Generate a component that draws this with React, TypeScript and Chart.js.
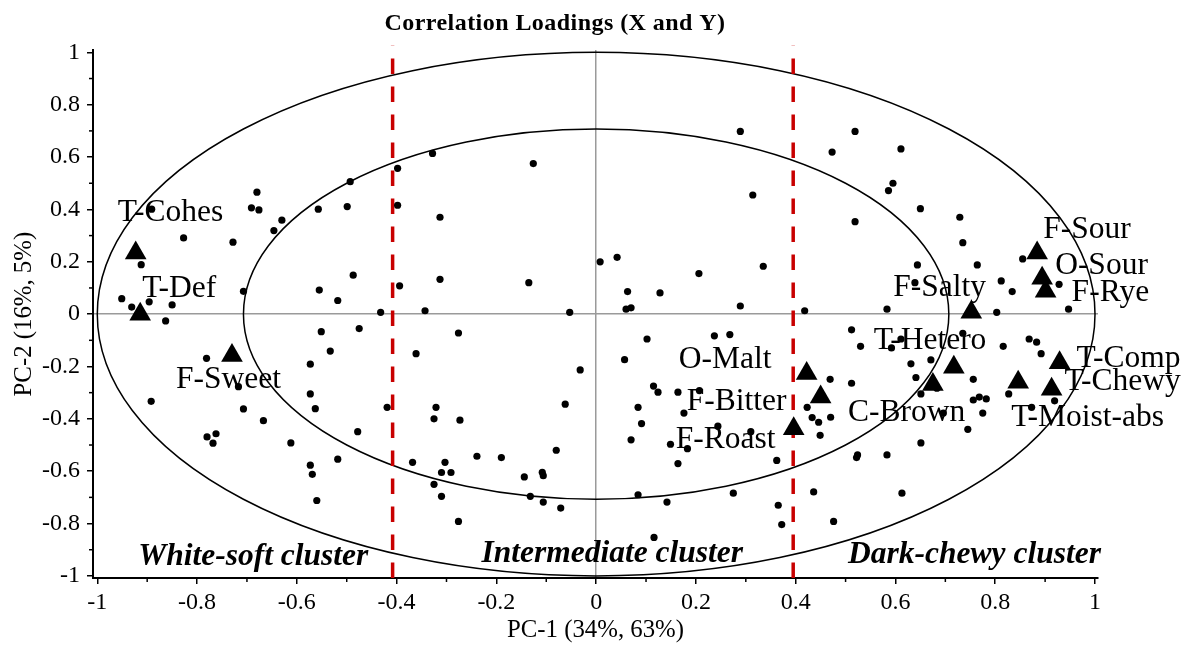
import React, { useEffect, useRef } from 'react';
import { Chart, registerables } from 'chart.js';

Chart.register(...registerables);

// ---------- data ----------
const dotX = [
  -0.891, -0.827, -0.728, -0.680, -0.691, -0.676, -0.646, -0.630, -0.557, -0.499, -0.493, -0.398, -0.398,
  -0.912, -0.951, -0.931, -0.896, -0.850, -0.863, -0.707, -0.555, -0.518, -0.487, -0.432, -0.394,
  -0.328, -0.126, -0.313, -0.313, -0.135, -0.343, -0.053, 0.008, 0.042, 0.063, 0.060, 0.070, 0.128,
  0.206, 0.289, 0.314, 0.335, 0.289,
  0.519, 0.473, 0.611, 0.595, 0.586, 0.650, 0.729, 0.519, 0.735, 0.644, 0.764, 0.855, 0.812, 0.834,
  0.928, 0.639, 0.418, 0.583, 0.803, 0.947,
  -0.781, -0.717, -0.892, -0.707, -0.667, -0.780, -0.762, -0.768, -0.612, -0.573, -0.551, -0.533,
  -0.475, -0.573, -0.563, -0.478, -0.419, -0.518, -0.573, -0.569, -0.560,
  -0.276, -0.361, -0.321, -0.325, -0.273, -0.032, -0.062, -0.080, -0.368, -0.303, -0.310, -0.291,
  -0.239, -0.190, -0.325, -0.310, -0.276, -0.144, -0.108, -0.106, -0.132, -0.106, -0.071,
  0.057, 0.102, 0.237, 0.268, 0.115, 0.124, 0.164, 0.207, 0.084, 0.091, 0.176, 0.070, 0.149, 0.183,
  0.244, 0.310, 0.164, 0.362, 0.084, 0.142, 0.275, 0.365, 0.372, 0.116,
  0.512, 0.530, 0.592, 0.611, 0.735, 0.816, 0.868, 0.883, 0.892, 0.631, 0.671, 0.641, 0.469, 0.512,
  0.756, 0.651, 0.683, 0.756, 0.768, 0.782, 0.775, 0.696, 0.827, 0.873, 0.919, 0.423, 0.433, 0.446,
  0.470, 0.449, 0.745, 0.651, 0.524, 0.522, 0.583, 0.436, 0.613, 0.476,
];
const dotY = [
  0.401, 0.291, 0.275, 0.466, 0.406, 0.398, 0.319, 0.359, 0.401, 0.411, 0.506, 0.557, 0.416,
  0.189, 0.059, 0.027, 0.047, 0.035, -0.026, 0.087, 0.092, 0.052, 0.149, 0.007, 0.108,
  0.614, 0.575, 0.370, 0.133, 0.120, 0.013, 0.007, 0.200, 0.217, 0.086, 0.019, 0.024, 0.081,
  0.155, 0.698, 0.455, 0.183, 0.031,
  0.698, 0.619, 0.631, 0.500, 0.472, 0.403, 0.370, 0.353, 0.273, 0.188, 0.188, 0.211, 0.127, 0.086,
  0.114, 0.120, 0.013, 0.019, 0.007, 0.019,
  -0.169, -0.277, -0.333, -0.362, -0.407, -0.469, -0.457, -0.493, -0.492, -0.191, -0.067, -0.141,
  -0.055, -0.305, -0.361, -0.449, -0.356, -0.554, -0.577, -0.612, -0.712,
  -0.072, -0.151, -0.356, -0.400, -0.405, -0.213, -0.344, -0.520, -0.566, -0.566, -0.605, -0.605,
  -0.543, -0.548, -0.650, -0.696, -0.792, -0.622, -0.604, -0.617, -0.696, -0.718, -0.741,
  -0.174, -0.095, -0.083, -0.078, -0.275, -0.298, -0.298, -0.292, -0.356, -0.418, -0.378, -0.480, -0.497, -0.514,
  -0.428, -0.449, -0.571, -0.559, -0.690, -0.718, -0.684, -0.730, -0.804, -0.853,
  -0.060, -0.123, -0.129, -0.095, -0.073, -0.123, -0.095, -0.107, -0.151, -0.190, -0.175, -0.242, -0.249, -0.264,
  -0.249, -0.305, -0.283, -0.328, -0.317, -0.324, -0.378, -0.378, -0.305, -0.356, -0.331, -0.356, -0.395, -0.413,
  -0.394, -0.463, -0.440, -0.492, -0.538, -0.548, -0.538, -0.679, -0.684, -0.792,
];

const varNames = [
  'T-Cohes', 'T-Def', 'F-Sweet', 'O-Malt', 'F-Bitter', 'F-Roast', 'F-Salty', 'F-Sour',
  'O-Sour', 'F-Rye', 'T-Hetero', 'C-Brown', 'T-Comp', 'T-Chewy', 'T-Moist-abs',
];
const varX = [-0.923, -0.914, -0.730, 0.422, 0.450, 0.396, 0.752, 0.884, 0.894, 0.901, 0.717, 0.675, 0.929, 0.913, 0.846];
const varY = [0.234, 0.0, -0.158, -0.227, -0.317, -0.438, 0.007, 0.234, 0.137, 0.087, -0.203, -0.269, -0.186, -0.287, -0.260];

const xTicks = [-1, -0.8, -0.6, -0.4, -0.2, 0, 0.2, 0.4, 0.6, 0.8, 1];
const yTicks = [-1, -0.8, -0.6, -0.4, -0.2, 0, 0.2, 0.4, 0.6, 0.8, 1];
const xMinorTicks = [-0.9, -0.7, -0.5, -0.3, -0.1, 0.1, 0.3, 0.5, 0.7, 0.9];
const yMinorTicks = [-0.9, -0.7, -0.5, -0.3, -0.1, 0.1, 0.3, 0.5, 0.7, 0.9];

const circleRadii = [1, 0.707];
const clusterBounds = [-0.408, 0.395];
const clusterNames = ['White-soft cluster', 'Intermediate cluster', 'Dark-chewy cluster'];

const titleText = 'Correlation Loadings (X and Y)';
const xTitle = 'PC-1 (34%, 63%)';
const yTitle = 'PC-2 (16%, 5%)';

// ---------- layout (pixels / positions, not data) ----------
const labelOffsets: [number, number][] = [
  [-18, -32], [2, -17], [-56, 33], [-128, -6], [-134, 13], [-118, 19], [-78, -16], [6, -15],
  [13, -4], [26, 10], [-80, -18], [-85, 36], [17, 4], [13, 1], [-7, 44],
];
const clusterLabelPos: [number, number][] = [[-0.918, -0.958], [-0.230, -0.946], [0.505, -0.950]];
const SERIF = "'Liberation Serif', 'Times New Roman', serif";

const fmt = (v: number) => String(Math.round(v * 10) / 10);

const overlayPlugin = {
  id: 'overlay',
  beforeDatasetsDraw(chart: any) {
    const { ctx, chartArea, scales } = chart;
    const x = scales.x, y = scales.y;
    ctx.save();
    const cx = x.getPixelForValue(0);
    const cy = y.getPixelForValue(0);
    ctx.strokeStyle = '#000';
    ctx.lineWidth = 1.5;
    circleRadii.forEach((r) => {
      ctx.beginPath();
      ctx.ellipse(cx, cy, x.getPixelForValue(r) - cx, cy - y.getPixelForValue(r), 0, 0, Math.PI * 2);
      ctx.stroke();
    });
    ctx.strokeStyle = '#c80000';
    ctx.lineWidth = 3.5;
    ctx.setLineDash([15.5, 12.5]);
    clusterBounds.forEach((b) => {
      const px = x.getPixelForValue(b);
      ctx.beginPath();
      ctx.moveTo(px, chartArea.bottom);
      ctx.lineTo(px, y.getPixelForValue(1.025));
      ctx.stroke();
    });
    ctx.restore();
  },
  afterDraw(chart: any) {
    const { ctx, chartArea, scales } = chart;
    const x = scales.x, y = scales.y;
    ctx.save();
    // minor ticks
    ctx.strokeStyle = '#000';
    ctx.lineWidth = 1.5;
    xMinorTicks.forEach((v) => {
      const px = x.getPixelForValue(v);
      ctx.beginPath();
      ctx.moveTo(px, chartArea.bottom);
      ctx.lineTo(px, chartArea.bottom + 4);
      ctx.stroke();
    });
    yMinorTicks.forEach((v) => {
      const py = y.getPixelForValue(v);
      ctx.beginPath();
      ctx.moveTo(chartArea.left, py);
      ctx.lineTo(chartArea.left - 4, py);
      ctx.stroke();
    });

    ctx.fillStyle = '#000';
    ctx.textBaseline = 'alphabetic';
    // variable labels
    ctx.font = `31.5px ${SERIF}`;
    ctx.textAlign = 'left';
    const meta = chart.getDatasetMeta(0);
    meta.data.forEach((pt: any, i: number) => {
      const [dx, dy] = labelOffsets[i];
      ctx.fillText(varNames[i], pt.x + dx, pt.y + dy);
    });
    // cluster labels
    ctx.font = `italic bold 31.5px ${SERIF}`;
    clusterNames.forEach((n, i) => {
      const [vx, vy] = clusterLabelPos[i];
      ctx.fillText(n, x.getPixelForValue(vx), y.getPixelForValue(vy));
    });
    // title
    ctx.font = `bold 24px ${SERIF}`;
    ctx.textAlign = 'center';
    (ctx as any).letterSpacing = '0.45px';
    ctx.fillText(titleText, 555, 29.5);
    (ctx as any).letterSpacing = '0px';
    // axis titles
    ctx.font = `24.8px ${SERIF}`;
    ctx.fillText(xTitle, (chartArea.left + chartArea.right) / 2, 637);
    ctx.save();
    ctx.translate(31, y.getPixelForValue(0));
    ctx.rotate(-Math.PI / 2);
    ctx.fillText(yTitle, 0, 0);
    ctx.restore();
    ctx.restore();
  },
};

export default function App() {
  const canvasRef = useRef<HTMLCanvasElement | null>(null);

  useEffect(() => {
    if (!canvasRef.current) return;
    const gridColor = (c: any) => (c.tick && c.tick.value === 0 ? '#9a9a9a' : 'rgba(0,0,0,0)');
    const chart = new Chart(canvasRef.current, {
      type: 'scatter',
      data: {
        datasets: [
          {
            label: 'Variables',
            data: varX.map((v, i) => ({ x: v, y: varY[i] })),
            pointStyle: 'triangle',
            pointRadius: 12.5,
            pointHoverRadius: 12.5,
            backgroundColor: '#000',
            borderWidth: 0,
          },
          {
            label: 'Samples',
            data: dotX.map((v, i) => ({ x: v, y: dotY[i] })),
            pointStyle: 'circle',
            pointRadius: 3.6,
            pointHoverRadius: 3.6,
            backgroundColor: '#000',
            borderWidth: 0,
          },
        ],
      },
      options: {
        animation: false,
        responsive: true,
        maintainAspectRatio: false,
        events: [],
        layout: { padding: { top: 50, right: 94, left: 0, bottom: 0 } },
        plugins: { legend: { display: false }, tooltip: { enabled: false }, title: { display: false } },
        scales: {
          x: {
            type: 'linear',
            min: -1.0086,
            max: 1.006,
            afterBuildTicks: (s: any) => { s.ticks = xTicks.map((v) => ({ value: v })); },
            afterFit: (s: any) => { s.height = 68; },
            ticks: {
              autoSkip: false,
              maxRotation: 0,
              color: '#000',
              padding: 4,
              font: { family: SERIF, size: 24 },
              callback: (v: any) => fmt(Number(v)),
            },
            grid: { color: gridColor, lineWidth: 1.5, tickColor: '#000', tickLength: 6, tickWidth: 1.5, drawTicks: true },
            border: { display: true, color: '#000', width: 2 },
          },
          y: {
            type: 'linear',
            min: -1.008,
            max: 1.009,
            afterBuildTicks: (s: any) => { s.ticks = yTicks.map((v) => ({ value: v })); },
            afterFit: (s: any) => { s.width = 93; },
            ticks: {
              autoSkip: false,
              color: '#000',
              padding: 7,
              font: { family: SERIF, size: 24 },
              callback: (v: any) => fmt(Number(v)),
            },
            grid: { color: gridColor, lineWidth: 1.5, tickColor: '#000', tickLength: 6, tickWidth: 1.5, drawTicks: true },
            border: { display: true, color: '#000', width: 2 },
          },
        },
      } as any,
      plugins: [overlayPlugin],
    });
    return () => chart.destroy();
  }, []);

  return (
    <div style={{ position: 'fixed', left: 0, top: 0, width: 1192, height: 646, background: '#fff' }}>
      <canvas ref={canvasRef} />
    </div>
  );
}
